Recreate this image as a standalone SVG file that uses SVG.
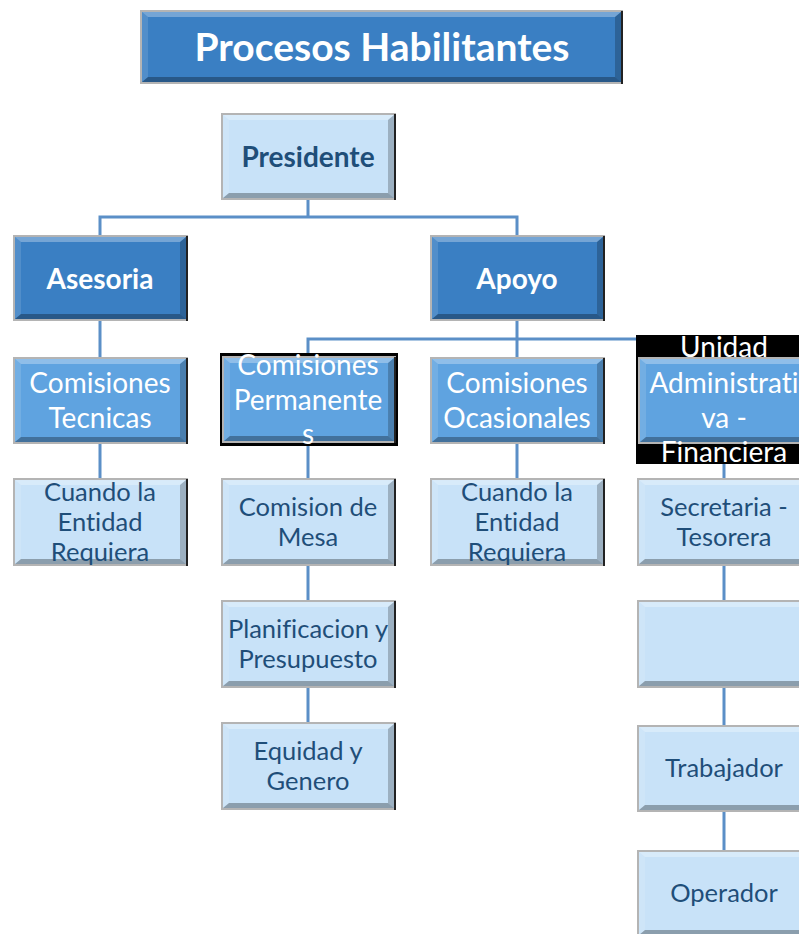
<svg xmlns="http://www.w3.org/2000/svg" width="799" height="934" viewBox="0 0 799 934">
<style>
.t{font-family:Lato,"Open Sans","Liberation Sans",sans-serif;text-anchor:middle;font-variant-ligatures:none}
.title{font-size:39px;font-weight:bold;fill:#fff}
.hb{font-size:28px;font-weight:bold;fill:#fff}
.hd{font-size:28px;font-weight:bold;fill:#1f4e79}
.mw{font-size:28px;fill:#fff}
.ld{font-size:25.5px;fill:#1f4e79}
.conn{stroke:#5b8fc7;stroke-width:3;fill:none}
</style>
<defs>
<symbol id="bev" viewBox="0 0 175 87" preserveAspectRatio="none">
<rect x="0" y="0" width="175" height="87" fill="none" stroke="#b4b4b4" stroke-width="4"/>
<rect x="173" y="1" width="2" height="86" fill="#222"/>
<polygon points="2,2 173,2 167,7 8,7" fill="#fff" fill-opacity="0.3"/>
<polygon points="2,2 8,7 8,80 2,85" fill="#fff" fill-opacity="0.12"/>
<polygon points="173,2 173,85 167,80 167,7" fill="#000" fill-opacity="0.22"/>
<polygon points="2,85 173,85 167,80 8,80" fill="#000" fill-opacity="0.3"/>
</symbol>
<symbol id="bevT" viewBox="0 0 483 74" preserveAspectRatio="none">
<rect x="0" y="0" width="483" height="74" fill="none" stroke="#b4b4b4" stroke-width="4"/>
<rect x="481" y="1" width="2" height="73" fill="#222"/>
<polygon points="2,2 481,2 475,7 8,7" fill="#fff" fill-opacity="0.3"/>
<polygon points="2,2 8,7 8,67 2,72" fill="#fff" fill-opacity="0.12"/>
<polygon points="481,2 481,72 475,67 475,7" fill="#000" fill-opacity="0.22"/>
<polygon points="2,72 481,72 475,67 8,67" fill="#000" fill-opacity="0.3"/>
</symbol>
</defs>

<g id="connectors">
<path class="conn" d="M308,200 V217 M100,235 V217 H517 V235"/>
<path class="conn" d="M100,321 V357 M100,444 V478"/>
<path class="conn" d="M517,321 V357 M308,355 V339 H799 M517,339 V357"/>
<path class="conn" d="M308,446 V478 M308,566 V600 M308,688 V722"/>
<path class="conn" d="M517,444 V478"/>
<path class="conn" d="M724,464 V478 M724,566 V600 M724,688 V725 M724,812 V850"/>
</g>

<g id="title">
<rect x="140" y="10" width="483" height="74" fill="#3a7fc3"/>
<use href="#bevT" x="140" y="10" width="483" height="74"/>
<text class="t title" x="382" y="61">Procesos Habilitantes</text>
</g>

<g id="presidente">
<rect x="221" y="113" width="175" height="87" fill="#c8e2f8"/>
<use href="#bev" x="221" y="113" width="175" height="87"/>
<text class="t hd" x="308" y="167">Presidente</text>
</g>

<g id="asesoria">
<rect x="13" y="235" width="175" height="86" fill="#3a7fc3"/>
<use href="#bev" x="13" y="235" width="175" height="86"/>
<text class="t hb" x="100" y="289">Asesoria</text>
</g>

<g id="apoyo">
<rect x="430" y="235" width="175" height="86" fill="#3a7fc3"/>
<use href="#bev" x="430" y="235" width="175" height="86"/>
<text class="t hb" x="517" y="289">Apoyo</text>
</g>

<g id="comisiones-tecnicas">
<rect x="13" y="357" width="175" height="87" fill="#5fa3e0"/>
<use href="#bev" x="13" y="357" width="175" height="87"/>
<text class="t mw" x="100" y="393">Comisiones</text>
<text class="t mw" x="100" y="428">Tecnicas</text>
</g>

<g id="comisiones-permanentes">
<rect x="220" y="353" width="178" height="93" fill="#000"/>
<rect x="222" y="356" width="174" height="87" fill="#5fa3e0"/>
<use href="#bev" x="222" y="356" width="174" height="87"/>
<text class="t mw" x="308" y="375">Comisiones</text>
<text class="t mw" x="308" y="410">Permanente</text>
<text class="t mw" x="308" y="444">s</text>
</g>

<g id="comisiones-ocasionales">
<rect x="430" y="357" width="175" height="87" fill="#5fa3e0"/>
<use href="#bev" x="430" y="357" width="175" height="87"/>
<text class="t mw" x="517" y="393">Comisiones</text>
<text class="t mw" x="517" y="428">Ocasionales</text>
</g>

<g id="unidad-administrativa">
<rect x="636" y="335" width="163" height="129" fill="#000"/>
<rect x="638" y="357" width="175" height="87" fill="#5fa3e0"/>
<use href="#bev" x="638" y="357" width="175" height="87"/>
<text class="t mw" x="724" y="357">Unidad</text>
<text class="t mw" x="724" y="393">Administrati</text>
<text class="t mw" x="724" y="428">va -</text>
<text class="t mw" x="724" y="462">Financiera</text>
</g>

<g id="cuando-tecnicas">
<rect x="13" y="478" width="175" height="88" fill="#c8e2f8"/>
<use href="#bev" x="13" y="478" width="175" height="88"/>
<text class="t ld" x="100" y="501">Cuando la</text>
<text class="t ld" x="100" y="531">Entidad</text>
<text class="t ld" x="100" y="561">Requiera</text>
</g>

<g id="comision-mesa">
<rect x="221" y="478" width="175" height="88" fill="#c8e2f8"/>
<use href="#bev" x="221" y="478" width="175" height="88"/>
<text class="t ld" x="308" y="516">Comision de</text>
<text class="t ld" x="308" y="546">Mesa</text>
</g>

<g id="cuando-ocasionales">
<rect x="430" y="478" width="175" height="88" fill="#c8e2f8"/>
<use href="#bev" x="430" y="478" width="175" height="88"/>
<text class="t ld" x="517" y="501">Cuando la</text>
<text class="t ld" x="517" y="531">Entidad</text>
<text class="t ld" x="517" y="561">Requiera</text>
</g>

<g id="secretaria-tesorera">
<rect x="637" y="478" width="175" height="88" fill="#c8e2f8"/>
<use href="#bev" x="637" y="478" width="175" height="88"/>
<text class="t ld" x="724" y="516">Secretaria -</text>
<text class="t ld" x="724" y="546">Tesorera</text>
</g>

<g id="planificacion">
<rect x="221" y="600" width="175" height="88" fill="#c8e2f8"/>
<use href="#bev" x="221" y="600" width="175" height="88"/>
<text class="t ld" x="308" y="638">Planificacion y</text>
<text class="t ld" x="308" y="668">Presupuesto</text>
</g>

<g id="vacio">
<rect x="637" y="600" width="175" height="88" fill="#c8e2f8"/>
<use href="#bev" x="637" y="600" width="175" height="88"/>
</g>

<g id="equidad-genero">
<rect x="221" y="722" width="175" height="88" fill="#c8e2f8"/>
<use href="#bev" x="221" y="722" width="175" height="88"/>
<text class="t ld" x="308" y="760">Equidad y</text>
<text class="t ld" x="308" y="790">Genero</text>
</g>

<g id="trabajador">
<rect x="637" y="725" width="175" height="87" fill="#c8e2f8"/>
<use href="#bev" x="637" y="725" width="175" height="87"/>
<text class="t ld" x="724" y="777">Trabajador</text>
</g>

<g id="operador">
<rect x="637" y="850" width="175" height="87" fill="#c8e2f8"/>
<use href="#bev" x="637" y="850" width="175" height="87"/>
<text class="t ld" x="724" y="902">Operador</text>
</g>
</svg>
